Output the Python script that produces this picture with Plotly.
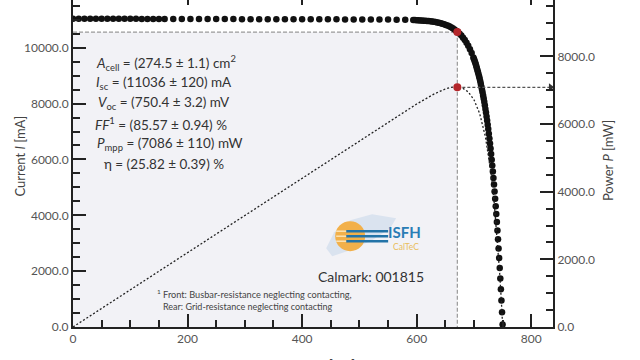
import plotly.graph_objects as go

# ---------------- data ----------------
voltage_mv = [0, 10, 20, 30, 40, 50, 60, 70, 80, 90, 100, 110, 120, 130, 140, 150, 160,
              175, 190, 205, 220, 235, 250, 265, 280, 295, 310, 325, 340, 355, 370, 385, 400,
              415, 430, 445, 460, 475, 490, 505, 520, 535, 550, 565, 580,
              594, 597, 600, 603, 606, 609, 612, 615, 618, 621, 624, 627, 630, 633, 636, 639,
              642, 645, 648, 651, 654, 657, 660, 663, 666, 669, 672, 675, 678, 681, 684, 687,
              690, 693, 696, 699,
              700, 701, 702, 703, 704, 705, 706, 707, 708, 709, 710, 711, 712, 713, 714, 715,
              716, 717, 718, 719, 720, 721, 722, 723, 724, 725, 726, 727, 728, 729, 730, 731,
              732, 733, 734, 735, 736, 737, 738, 739, 740, 741, 742, 743, 744, 745, 746, 747,
              748, 749, 750]
current_ma = [11040, 11040, 11039, 11039, 11038, 11038, 11037, 11037, 11036, 11036, 11035,
              11035, 11034, 11034, 11033, 11033, 11032,
              11031, 11031, 11030, 11029, 11028, 11028, 11027, 11026, 11025, 11024, 11024,
              11023, 11022, 11021, 11021, 11020, 11019, 11018, 11017, 11017, 11016, 11015,
              11014, 11013, 11012, 11010, 11006, 11001,
              10992, 10990, 10987, 10983, 10980, 10976, 10971, 10966, 10960, 10954, 10946,
              10938, 10929, 10918, 10906, 10893, 10877, 10860, 10841, 10819, 10794, 10766,
              10734, 10698, 10658, 10612, 10560, 10502, 10435, 10361, 10276, 10180, 10072,
              9950, 9812, 9655,
              9598, 9540, 9478, 9414, 9348, 9278, 9206, 9131, 9052, 8971, 8886, 8796, 8704,
              8607, 8507, 8403, 8294, 8181, 8063, 7940, 7811, 7678, 7539, 7394, 7243, 7086,
              6922, 6751, 6573, 6388, 6195, 5993, 5783, 5565, 5337, 5100, 4853, 4596, 4328,
              4049, 3758, 3455, 3139, 2810, 2467, 2110, 1738, 1351, 947, 526, 88]

power_voltage_mv = [0, 100, 200, 300, 400, 500, 550, 600, 630, 650, 660, 670, 680, 690,
                    700, 710, 720, 730, 735, 740, 745, 748, 750]
power_mw = [0, 1103, 2206, 3307, 4408, 5507, 6055, 6592, 6885, 7037, 7084, 7099, 7062, 6950,
            6719, 6309, 5624, 4522, 3749, 2781, 1572, 708, 66]

v_mpp = 671
i_mpp = 10560
p_mpp = 7086

x_range = [0, 838]
y_range = [0, 11710]
y2_range = [0, 9666]
x_tick_vals = [0, 200, 400, 600, 800]
x_tick_text = ["0", "200", "400", "600", "800"]

stats_lines = [
    "<i>A</i><sub>cell</sub> = (274.5 ± 1.1) cm<sup>2</sup>",
    "<i>I</i><sub>sc</sub> = (11036 ± 120) mA",
    "<i>V</i><sub>oc</sub> = (750.4 ± 3.2) mV",
    "<i>FF</i><sup>1</sup> = (85.57 ± 0.94) %",
    "<i>P</i><sub>mpp</sub> = (7086 ± 110) mW",
    "η = (25.82 ± 0.39) %",
]
footnote_lines = [
    "<sup>1</sup> Front: Busbar-resistance neglecting contacting,",
    "Rear: Grid-resistance neglecting contacting",
]
calmark_text = "Calmark: 001815"

# ---------------- styling helpers ----------------
FONT = "Lato, 'Open Sans', sans-serif"
AX = "#222222"
L, R, T, B = 72.6, 553.0, 0.0, 326.7  # plot area in page pixels


def px(x):
    return (x - L) / (R - L)


def py(y):
    return (B - y) / (B - T)


fig = go.Figure()

# shaded MPP rectangle
fig.add_shape(type="rect", xref="x", yref="y", x0=0, x1=v_mpp, y0=0, y1=i_mpp,
              fillcolor="rgba(226,226,236,0.45)", line_width=0, layer="below")

# dashed MPP guide lines (I-V)
fig.add_trace(go.Scatter(x=[0, v_mpp, v_mpp], y=[i_mpp, i_mpp, 0], mode="lines",
                         line=dict(color="#9a9a9a", width=1.2, dash="4px,2px"),
                         hoverinfo="skip", showlegend=False))

# I-V measured points
fig.add_trace(go.Scatter(x=voltage_mv, y=current_ma, mode="markers",
                         marker=dict(size=6.5, color="#111111"),
                         showlegend=False))
fig.add_trace(go.Scatter(x=[v_mpp], y=[i_mpp], mode="markers",
                         marker=dict(size=8, color="#b3262b"), showlegend=False))

# power curve on right axis
fig.add_trace(go.Scatter(x=power_voltage_mv, y=power_mw, yaxis="y2", mode="lines",
                         line=dict(color="#222222", width=1.3, dash="2px,2px"),
                         showlegend=False))
fig.add_trace(go.Scatter(x=[v_mpp, x_range[1]], y=[p_mpp, p_mpp], yaxis="y2", mode="lines",
                         line=dict(color="#555555", width=1.2, dash="3px,2px"),
                         showlegend=False))
fig.add_trace(go.Scatter(x=[x_range[1] - 4], y=[p_mpp], yaxis="y2", mode="markers",
                         marker=dict(symbol="triangle-right", size=7, color="#333333"),
                         cliponaxis=False, showlegend=False))
fig.add_trace(go.Scatter(x=[v_mpp], y=[p_mpp], yaxis="y2", mode="markers",
                         marker=dict(size=8, color="#b3262b"), showlegend=False))
# dummy trace so the top tick axis is drawn
fig.add_trace(go.Scatter(x=[None], y=[None], xaxis="x2", yaxis="y", showlegend=False))

tickfont = dict(family=FONT, size=12, color="#555555")
common = dict(showline=True, linecolor=AX, linewidth=2, ticks="inside", ticklen=13,
              tickwidth=2, tickcolor=AX, showgrid=False, zeroline=False,
              tickfont=tickfont, automargin=False)

fig.update_layout(
    width=640, height=360,
    margin=dict(l=L, r=640 - R, t=T, b=360 - B),
    paper_bgcolor="white", plot_bgcolor="white",
    showlegend=False,
    xaxis=dict(range=x_range, tickvals=x_tick_vals, ticktext=x_tick_text,
               minor=dict(ticks="inside", ticklen=7, tickwidth=1.5, dtick=50, tickcolor=AX),
               **common),
    xaxis2=dict(range=x_range, overlaying="x", side="top", anchor="y",
                tickvals=x_tick_vals, ticks="inside", ticklen=5, tickwidth=2,
                tickcolor=AX, showticklabels=False, showline=False, showgrid=False,
                zeroline=False),
    yaxis=dict(range=y_range, dtick=2000, tickformat=".1f",
               minor=dict(ticks="inside", ticklen=7, tickwidth=1.5, dtick=500, tickcolor=AX),
               **common),
    yaxis2=dict(range=y2_range, dtick=2000, tickformat=".1f", overlaying="y", side="right",
                minor=dict(ticks="inside", ticklen=7, tickwidth=1.5, dtick=500, tickcolor=AX),
                **common),
)

ann = []
# axis titles
ann.append(dict(text="Current <i>I</i> [mA]", x=px(20), y=py(156), xref="paper", yref="paper",
                xanchor="center", yanchor="middle",
                textangle=-90, showarrow=False, font=dict(family=FONT, size=13, color="#444")))
ann.append(dict(text="Power <i>P</i> [mW]", x=px(608), y=py(160), xref="paper", yref="paper",
                xanchor="center", yanchor="middle",
                textangle=-90, showarrow=False, font=dict(family=FONT, size=13, color="#444")))
ann.append(dict(text="Voltage <i>V</i> [mV]", x=px(313), y=py(355), xref="paper", yref="paper",
                xanchor="center", yanchor="top", showarrow=False,
                font=dict(family=FONT, size=13, color="#444")))

# statistics block (centres of each line as seen in the picture)
stats_centres = [165.5, 164, 163.5, 161, 169, 164]
for k, line in enumerate(stats_lines):
    ann.append(dict(text=line, x=px(stats_centres[k]), y=py(63 + 20.2 * k), xref="paper",
                    yref="paper", xanchor="center", yanchor="middle", showarrow=False,
                    font=dict(family=FONT, size=13.5, color="#333333")))

# footnote
ann.append(dict(text=footnote_lines[0], x=px(254.5), y=py(294), xref="paper", yref="paper",
                xanchor="center", yanchor="middle", showarrow=False,
                font=dict(family=FONT, size=9.2, color="#444444")))
ann.append(dict(text=footnote_lines[1], x=px(247.5), y=py(306), xref="paper", yref="paper",
                xanchor="center", yanchor="middle", showarrow=False,
                font=dict(family=FONT, size=9, color="#444444")))

# calmark
ann.append(dict(text=calmark_text, x=px(371), y=py(276), xref="paper", yref="paper",
                xanchor="center", yanchor="middle", showarrow=False,
                font=dict(family=FONT, size=14, color="#333333")))

# logo texts
ann.append(dict(text="<b>ISFH</b>", x=px(404), y=py(232), xref="paper", yref="paper",
                xanchor="center", yanchor="middle", showarrow=False,
                font=dict(family=FONT, size=15, color="#2a7db5")))
ann.append(dict(text="CalTeC", x=px(406), y=py(247), xref="paper", yref="paper",
                xanchor="center", yanchor="middle", showarrow=False,
                font=dict(family=FONT, size=8.5, color="#e9bd5c")))
fig.update_layout(annotations=ann)


def ppath(points):
    s = "M " + " L ".join(f"{px(a):.4f},{py(b):.4f}" for a, b in points) + " Z"
    return s


# logo shapes (decoration, page-pixel positions)
fig.add_shape(type="rect", xref="paper", yref="paper", x0=px(322), x1=px(423),
              y0=py(262), y1=py(208), fillcolor="white", line_width=0, layer="below")
fig.add_shape(type="path", xref="paper", yref="paper",
              path=ppath([(326, 248), (334, 232), (350, 220), (372, 214), (396, 218),
                          (390, 228), (372, 240), (350, 250), (332, 256)]),
              fillcolor="rgba(130,175,220,0.35)", line_width=0, layer="below")
fig.add_shape(type="circle", xref="paper", yref="paper", x0=px(335), x1=px(365),
              y0=py(251), y1=py(221), fillcolor="#f2b04a", line_width=0)
for yy in (231, 236, 241):
    fig.add_shape(type="line", xref="paper", yref="paper", x0=px(346), x1=px(388),
                  y0=py(yy), y1=py(yy), line=dict(color="#2474a8", width=2.5))
    fig.add_shape(type="line", xref="paper", yref="paper", x0=px(336), x1=px(346),
                  y0=py(yy), y1=py(yy), line=dict(color="#fbe3b5", width=1.5))

fig.write_html("out.html")
